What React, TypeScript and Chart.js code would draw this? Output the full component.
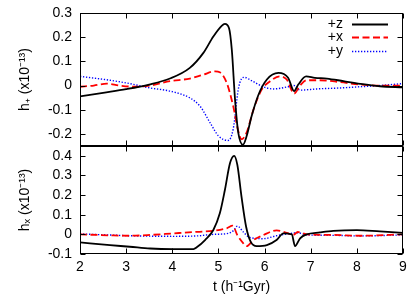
import React, { useEffect, useRef } from 'react';
import { Chart, registerables } from 'chart.js';

Chart.register(...registerables);

const FONT = "'Liberation Sans', Arial, Helvetica, sans-serif";

// ---- labels & ticks ----
const seriesLabels = ['+z', '+x', '+y'];
const xTicks = [2, 3, 4, 5, 6, 7, 8, 9];
const yTicksTop = [-0.2, -0.1, 0, 0.1, 0.2, 0.3];
const yTicksBottom = [-0.1, 0, 0.1, 0.2, 0.3, 0.4];
const xTitle = 't (h\u207B\u00B9Gyr)';
const yTitleTop = 'h\u208A (x10\u207B\u00B9\u00B3)';
const yTitleBottom = 'h\u2093 (x10\u207B\u00B9\u00B3)';

// ---- top panel (h+) ----
const tTopZ = [2, 2.5, 3, 3.5, 3.95, 4.38, 4.67, 4.89, 5.07, 5.14, 5.23, 5.29, 5.36, 5.43, 5.53, 5.61, 5.72, 5.87, 6.05, 6.3, 6.51, 6.64, 6.73, 6.9, 7.09, 7.35, 7.71, 8.07, 8.5, 9];
const topZ = [-0.045, -0.03, -0.015, 0.004, 0.029, 0.073, 0.134, 0.203, 0.247, 0.255, 0.237, 0.148, -0.058, -0.195, -0.245, -0.21, -0.126, -0.037, 0.025, 0.052, 0.032, -0.023, 0.004, 0.038, 0.032, 0.029, 0.018, 0.007, -0.003, -0.007];

const tTopX = [2, 2.3, 2.58, 2.85, 3.2, 3.52, 3.95, 4.38, 4.67, 4.93, 5.03, 5.18, 5.32, 5.43, 5.5, 5.61, 5.76, 5.94, 6.12, 6.33, 6.48, 6.64, 6.77, 6.91, 7.2, 7.64, 8.07, 8.5, 9];
const topX = [-0.005, 0.0, 0.008, 0.0, -0.005, 0.0, 0.018, 0.029, 0.045, 0.059, 0.055, 0.011, -0.085, -0.188, -0.222, -0.195, -0.099, -0.016, 0.018, 0.038, 0.025, -0.033, 0.0, 0.022, 0.022, 0.014, 0.004, 0.0, 0.0];

const tTopY = [2, 2.65, 3.08, 3.52, 3.95, 4.38, 4.6, 4.82, 5.0, 5.21, 5.32, 5.43, 5.5, 5.56, 5.72, 5.97, 6.19, 6.51, 6.64, 6.77, 7.13, 7.64, 8.07, 8.5, 9];
const topY = [0.038, 0.022, 0.008, -0.01, -0.023, -0.051, -0.085, -0.154, -0.208, -0.227, -0.18, -0.016, 0.028, 0.034, 0.02, -0.005, -0.014, -0.005, 0.0, -0.019, -0.014, -0.01, -0.005, 0.0, 0.008];

// ---- bottom panel (hx) ----
const tBotZ = [2, 2.65, 3.08, 3.52, 4.02, 4.46, 4.53, 4.71, 4.89, 5.03, 5.14, 5.25, 5.34, 5.41, 5.5, 5.6, 5.7, 5.83, 6.05, 6.26, 6.41, 6.59, 6.66, 6.77, 6.91, 7.2, 7.49, 8.0, 8.5, 9];
const botZ = [-0.041, -0.055, -0.063, -0.072, -0.075, -0.075, -0.066, -0.029, 0.022, 0.107, 0.226, 0.362, 0.4, 0.354, 0.192, 0.039, -0.038, -0.06, -0.055, -0.029, 0.005, 0.0, -0.06, -0.02, 0.0, 0.01, 0.018, 0.022, 0.015, 0.008];

const tBotX = [2, 2.65, 3.08, 3.52, 4.02, 4.53, 4.89, 5.18, 5.31, 5.41, 5.54, 5.61, 5.76, 5.97, 6.26, 6.48, 6.62, 6.72, 6.91, 7.49, 8.07, 9];
const botX = [0.0, -0.005, -0.007, -0.003, 0.005, 0.013, 0.018, 0.031, 0.044, -0.004, -0.046, -0.06, -0.029, -0.004, 0.02, 0.008, -0.003, 0.012, 0.0, -0.003, -0.007, 0.0];

const tBotY = [2, 2.5, 3.08, 4.02, 4.53, 4.89, 5.21, 5.33, 5.41, 5.54, 5.68, 5.97, 6.26, 6.48, 6.73, 6.91, 7.49, 8.07, 9];
const botY = [0.002, -0.002, -0.007, -0.01, -0.008, 0.0, 0.005, 0.02, 0.042, 0.012, -0.016, -0.022, -0.007, 0.002, 0.008, -0.003, -0.005, -0.008, -0.003];

const pts = (t: number[], v: number[]) => t.map((x, i) => ({ x, y: v[i] }));

const styles = [
  { borderColor: '#000000', borderWidth: 1.8, borderDash: [] as number[] },
  { borderColor: '#ff0000', borderWidth: 1.8, borderDash: [7, 3.5] },
  { borderColor: '#0000ff', borderWidth: 1.4, borderDash: [1.3, 1.7] },
];

const makeDatasets = (series: { t: number[]; v: number[] }[]) =>
  series.map((s, i) => ({
    label: seriesLabels[i],
    data: pts(s.t, s.v),
    ...styles[i],
    pointRadius: 0,
    fill: false,
    cubicInterpolationMode: 'monotone' as const,
  }));

const fmt = (v: number) => (Math.abs(v) < 1e-9 ? '0' : v.toFixed(1));

const framePlugin = {
  id: 'frame',
  afterDatasetsDraw(chart: any, _args: any, opts: any) {
    const { ctx, chartArea: a, scales } = chart;
    const L = Math.round(a.left) + 0.5;
    const R = Math.round(a.right) - 0.5;
    const T = Math.round(a.top) + 0.5;
    const B = Math.round(a.bottom) - 0.5;
    const len = 5;
    ctx.save();
    ctx.strokeStyle = '#000';
    ctx.lineWidth = 1;
    ctx.setLineDash([]);
    ctx.beginPath();
    for (const v of xTicks) {
      const px = Math.round(scales.x.getPixelForValue(v)) + 0.5;
      ctx.moveTo(px, B);
      ctx.lineTo(px, B - len);
      ctx.moveTo(px, T);
      ctx.lineTo(px, T + len);
    }
    for (const v of opts.yTicks as number[]) {
      const py = Math.round(scales.y.getPixelForValue(v)) + 0.5;
      ctx.moveTo(L, py);
      ctx.lineTo(L + len, py);
      ctx.moveTo(R, py);
      ctx.lineTo(R - len, py);
    }
    ctx.stroke();
    ctx.strokeRect(L, T, R - L, B - T);

    if (opts.legend) {
      ctx.font = `14px ${FONT}`;
      ctx.fillStyle = '#000';
      ctx.textAlign = 'right';
      ctx.textBaseline = 'middle';
      chart.data.datasets.forEach((ds: any, i: number) => {
        const y = a.top + 11 + i * 13.4;
        ctx.fillText(ds.label, a.right - 60, y);
        ctx.beginPath();
        ctx.strokeStyle = ds.borderColor;
        ctx.lineWidth = ds.borderWidth;
        ctx.setLineDash(ds.borderDash || []);
        ctx.moveTo(a.right - 51, Math.round(y) + 0.5);
        ctx.lineTo(a.right - 15, Math.round(y) + 0.5);
        ctx.stroke();
      });
    }
    ctx.restore();
  },
};

const tickFont = { size: 14, family: FONT };

function makeConfig(kind: 'top' | 'bottom'): any {
  const isTop = kind === 'top';
  const yTicks = isTop ? yTicksTop : yTicksBottom;
  const datasets = isTop
    ? makeDatasets([
        { t: tTopZ, v: topZ },
        { t: tTopX, v: topX },
        { t: tTopY, v: topY },
      ])
    : makeDatasets([
        { t: tBotZ, v: botZ },
        { t: tBotX, v: botX },
        { t: tBotY, v: botY },
      ]);
  return {
    type: 'line',
    data: { datasets },
    plugins: [framePlugin],
    options: {
      animation: false,
      responsive: false,
      devicePixelRatio: 1,
      events: [],
      layout: {
        padding: isTop
          ? { top: 13, right: 17, bottom: 1, left: 0 }
          : { top: 6, right: 17, bottom: 0, left: 0 },
      },
      plugins: {
        legend: { display: false },
        tooltip: { enabled: false },
        frame: { yTicks, legend: isTop },
      },
      scales: {
        x: {
          type: 'linear',
          min: 2,
          max: 9,
          display: !isTop,
          afterBuildTicks: (s: any) => {
            s.ticks = xTicks.map((v) => ({ value: v }));
          },
          afterFit: (s: any) => {
            s.height = isTop ? 0 : 40;
            s.paddingLeft = 0;
            s.paddingRight = 0;
          },
          grid: { display: false, drawTicks: false },
          border: { display: false },
          ticks: {
            color: '#000',
            font: tickFont,
            padding: 5,
            maxRotation: 0,
            autoSkip: false,
            callback: (v: number) => String(v),
          },
          title: {
            display: true,
            text: xTitle,
            color: '#000',
            font: tickFont,
            padding: { top: 0, bottom: -2 },
          },
        },
        y: {
          type: 'linear',
          min: isTop ? -0.25 : -0.1,
          max: isTop ? 0.3 : 0.45,
          afterBuildTicks: (s: any) => {
            s.ticks = yTicks.map((v) => ({ value: v }));
          },
          afterFit: (s: any) => {
            s.width = 80;
            s.paddingTop = 0;
            s.paddingBottom = 0;
          },
          grid: { display: false, drawTicks: false },
          border: { display: false },
          ticks: {
            color: '#000',
            font: tickFont,
            padding: 8,
            autoSkip: false,
            callback: (v: number) => fmt(v),
          },
          title: {
            display: true,
            text: isTop ? yTitleTop : yTitleBottom,
            color: '#000',
            font: tickFont,
            padding: { top: 17, bottom: 0 },
          },
        },
      },
    },
  };
}

export default function App() {
  const topRef = useRef<HTMLCanvasElement | null>(null);
  const botRef = useRef<HTMLCanvasElement | null>(null);

  useEffect(() => {
    document.body.style.margin = '0';
    document.body.style.background = '#fff';
    const c1 = new Chart(topRef.current as HTMLCanvasElement, makeConfig('top'));
    const c2 = new Chart(botRef.current as HTMLCanvasElement, makeConfig('bottom'));
    return () => {
      c1.destroy();
      c2.destroy();
    };
  }, []);

  return (
    <div style={{ position: 'relative', width: 420, height: 294, background: '#fff' }}>
      <canvas
        ref={topRef}
        width={420}
        height={147}
        style={{ position: 'absolute', left: 0, top: 0, width: 420, height: 147 }}
      />
      <canvas
        ref={botRef}
        width={420}
        height={154}
        style={{ position: 'absolute', left: 0, top: 140, width: 420, height: 154 }}
      />
    </div>
  );
}
